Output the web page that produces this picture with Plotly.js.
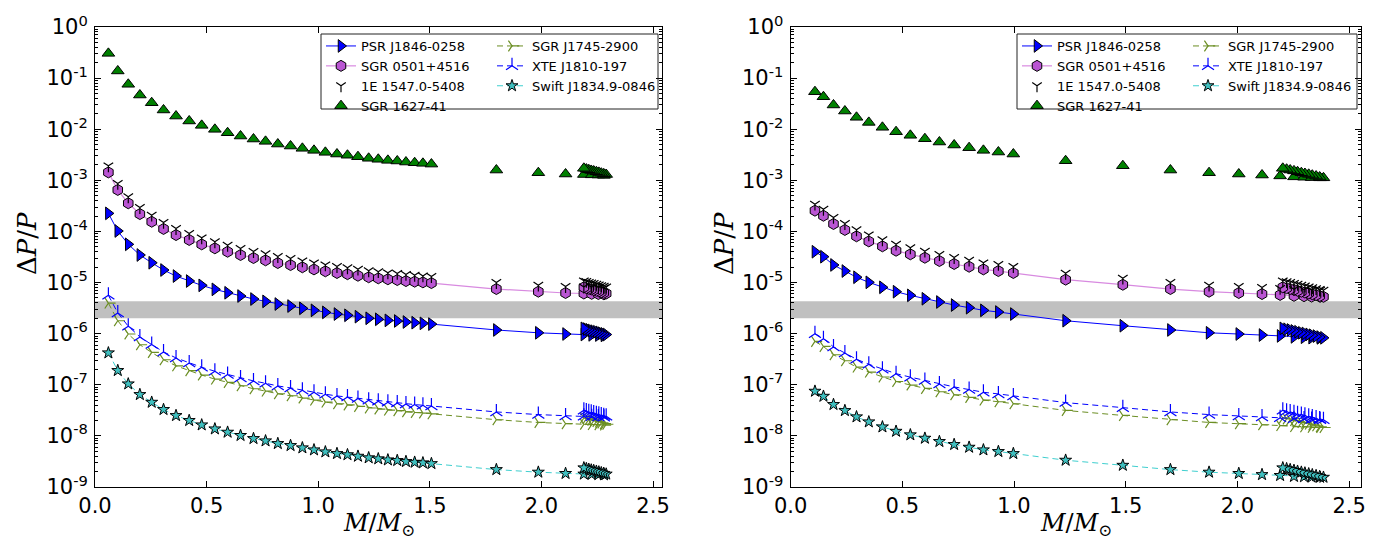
<!DOCTYPE html>
<html><head><meta charset="utf-8">
<script src="https://cdn.plot.ly/plotly-3.0.1.min.js"></script>
<style>html,body{margin:0;padding:0;background:#fff}#chart{width:1381px;height:544px}</style>
</head><body><div id="chart"></div>
<script>
// ---------- DATA ----------
const massLeft = [0.060,0.102,0.149,0.201,0.254,0.307,0.363,0.422,0.478,0.537,0.594,0.652,0.710,0.764,0.819,0.876,0.929,0.981,1.032,1.084,1.131,1.178,1.226,1.269,1.312,1.354,1.393,1.432,1.469,1.507,1.798,1.986,2.108,2.190,2.225,2.255,2.280,2.290,2.279,2.268,2.257,2.246,2.234,2.223,2.212,2.201,2.190];
const massRight = [0.109,0.147,0.192,0.243,0.295,0.350,0.411,0.472,0.536,0.601,0.666,0.732,0.799,0.863,0.930,0.997,1.231,1.487,1.700,1.873,2.006,2.110,2.191,2.253,2.298,2.332,2.370,2.385,2.368,2.352,2.335,2.319,2.302,2.286,2.269,2.253,2.236,2.220,2.203];

const psrLeft = [2.26e-4,1.02e-4,5.60e-5,3.46e-5,2.44e-5,1.76e-5,1.34e-5,1.07e-5,8.81e-6,7.36e-6,6.31e-6,5.45e-6,4.76e-6,4.28e-6,3.80e-6,3.47e-6,3.13e-6,2.86e-6,2.61e-6,2.42e-6,2.29e-6,2.15e-6,2.00e-6,1.91e-6,1.82e-6,1.77e-6,1.69e-6,1.64e-6,1.59e-6,1.54e-6,1.18e-6,1.04e-6,9.84e-7,9.62e-7,9.47e-7,9.40e-7,9.25e-7,9.62e-7,9.92e-7,1.02e-6,1.06e-6,1.09e-6,1.12e-6,1.15e-6,1.19e-6,1.23e-6,1.27e-6];
const sgr0501Left = [1.43e-3,6.49e-4,3.56e-4,2.19e-4,1.55e-4,1.12e-4,8.51e-5,6.82e-5,5.59e-5,4.68e-5,4.01e-5,3.46e-5,3.02e-5,2.72e-5,2.41e-5,2.20e-5,1.99e-5,1.81e-5,1.66e-5,1.54e-5,1.46e-5,1.36e-5,1.27e-5,1.21e-5,1.16e-5,1.12e-5,1.07e-5,1.04e-5,1.01e-5,9.78e-6,7.47e-6,6.63e-6,6.25e-6,6.11e-6,6.02e-6,5.97e-6,5.88e-6,6.11e-6,6.30e-6,6.49e-6,6.72e-6,6.91e-6,7.14e-6,7.33e-6,7.57e-6,7.80e-6,8.08e-6];
const e1547Left = [1.92e-3,8.69e-4,4.77e-4,2.94e-4,2.08e-4,1.50e-4,1.14e-4,9.14e-5,7.50e-5,6.27e-5,5.37e-5,4.64e-5,4.05e-5,3.65e-5,3.23e-5,2.95e-5,2.66e-5,2.43e-5,2.22e-5,2.06e-5,1.95e-5,1.83e-5,1.70e-5,1.63e-5,1.55e-5,1.51e-5,1.44e-5,1.39e-5,1.35e-5,1.31e-5,1.00e-5,8.88e-6,8.38e-6,8.19e-6,8.06e-6,8.00e-6,7.88e-6,8.19e-6,8.44e-6,8.69e-6,9.01e-6,9.26e-6,9.58e-6,9.83e-6,1.01e-5,1.05e-5,1.08e-5];
const sgr1627Left = [0.305,0.138,0.0757,0.0467,0.0330,0.0238,0.0181,0.0145,0.0119,0.00995,0.00853,0.00736,0.00643,0.00579,0.00513,0.00469,0.00423,0.00386,0.00353,0.00327,0.00310,0.00290,0.00270,0.00258,0.00246,0.00239,0.00228,0.00221,0.00215,0.00208,0.00159,0.00141,0.00133,0.00130,0.00128,0.00127,0.00125,0.00130,0.00134,0.00138,0.00143,0.00147,0.00152,0.00156,0.00161,0.00166,0.00172];
const sgr1745Left = [3.97e-6,1.79e-6,9.84e-7,6.07e-7,4.29e-7,3.09e-7,2.35e-7,1.89e-7,1.55e-7,1.29e-7,1.11e-7,9.57e-8,8.36e-8,7.53e-8,6.67e-8,6.10e-8,5.50e-8,5.02e-8,4.59e-8,4.25e-8,4.03e-8,3.77e-8,3.51e-8,3.35e-8,3.20e-8,3.11e-8,2.96e-8,2.87e-8,2.80e-8,2.70e-8,2.07e-8,1.83e-8,1.73e-8,1.69e-8,1.66e-8,1.65e-8,1.63e-8,1.69e-8,1.74e-8,1.79e-8,1.86e-8,1.91e-8,1.98e-8,2.03e-8,2.09e-8,2.16e-8,2.24e-8];
const xteLeft = [5.64e-6,2.55e-6,1.40e-6,8.64e-7,6.11e-7,4.40e-7,3.35e-7,2.68e-7,2.20e-7,1.84e-7,1.58e-7,1.36e-7,1.19e-7,1.07e-7,9.49e-8,8.68e-8,7.83e-8,7.14e-8,6.53e-8,6.05e-8,5.74e-8,5.37e-8,5.00e-8,4.77e-8,4.55e-8,4.42e-8,4.22e-8,4.09e-8,3.98e-8,3.85e-8,2.94e-8,2.61e-8,2.46e-8,2.41e-8,2.37e-8,2.35e-8,2.31e-8,2.41e-8,2.48e-8,2.55e-8,2.65e-8,2.72e-8,2.81e-8,2.89e-8,2.98e-8,3.07e-8,3.18e-8];
const swiftLeft = [4.21e-7,1.90e-7,1.04e-7,6.44e-8,4.55e-8,3.28e-8,2.50e-8,2.00e-8,1.64e-8,1.37e-8,1.18e-8,1.02e-8,8.87e-9,7.99e-9,7.08e-9,6.47e-9,5.84e-9,5.33e-9,4.87e-9,4.51e-9,4.28e-9,4.00e-9,3.73e-9,3.56e-9,3.39e-9,3.30e-9,3.15e-9,3.05e-9,2.97e-9,2.87e-9,2.19e-9,1.95e-9,1.84e-9,1.79e-9,1.77e-9,1.75e-9,1.73e-9,1.79e-9,1.85e-9,1.90e-9,1.97e-9,2.03e-9,2.10e-9,2.15e-9,2.22e-9,2.29e-9,2.37e-9];

const psrRight = [4.01e-5,3.20e-5,2.21e-5,1.68e-5,1.27e-5,1.01e-5,8.07e-6,6.62e-6,5.62e-6,4.82e-6,4.16e-6,3.63e-6,3.22e-6,2.86e-6,2.65e-6,2.42e-6,1.79e-6,1.43e-6,1.18e-6,1.04e-6,9.84e-7,9.40e-7,9.03e-7,8.66e-7,8.51e-7,8.36e-7,8.29e-7,8.29e-7,8.58e-7,8.95e-7,9.32e-7,9.69e-7,1.01e-6,1.04e-6,1.09e-6,1.13e-6,1.18e-6,1.22e-6,1.27e-6];
const sgr0501Right = [2.55e-4,2.03e-4,1.40e-4,1.07e-4,8.04e-5,6.39e-5,5.12e-5,4.20e-5,3.57e-5,3.06e-5,2.64e-5,2.31e-5,2.04e-5,1.81e-5,1.68e-5,1.54e-5,1.14e-5,9.07e-6,7.47e-6,6.63e-6,6.25e-6,5.97e-6,5.73e-6,5.50e-6,5.41e-6,5.31e-6,5.26e-6,5.26e-6,5.45e-6,5.69e-6,5.92e-6,6.16e-6,6.39e-6,6.63e-6,6.91e-6,7.19e-6,7.47e-6,7.76e-6,8.08e-6];
const e1547Right = [3.41e-4,2.72e-4,1.88e-4,1.43e-4,1.08e-4,8.57e-5,6.87e-5,5.63e-5,4.79e-5,4.11e-5,3.54e-5,3.09e-5,2.74e-5,2.43e-5,2.26e-5,2.06e-5,1.52e-5,1.22e-5,1.00e-5,8.88e-6,8.38e-6,8.00e-6,7.69e-6,7.37e-6,7.25e-6,7.12e-6,7.06e-6,7.06e-6,7.31e-6,7.62e-6,7.94e-6,8.25e-6,8.57e-6,8.88e-6,9.26e-6,9.64e-6,1.00e-5,1.04e-5,1.08e-5];
const sgr1627Right = [0.0542,0.0432,0.0298,0.0227,0.0171,0.0136,0.0109,0.00894,0.00760,0.00652,0.00562,0.00491,0.00435,0.00386,0.00358,0.00327,0.00242,0.00193,0.00159,0.00141,0.00133,0.00127,0.00122,0.00117,0.00115,0.00113,0.00112,0.00112,0.00116,0.00121,0.00126,0.00131,0.00136,0.00141,0.00147,0.00153,0.00159,0.00165,0.00172];
const sgr1745Right = [7.05e-7,5.62e-7,3.87e-7,2.95e-7,2.22e-7,1.77e-7,1.42e-7,1.16e-7,9.88e-8,8.48e-8,7.31e-8,6.38e-8,5.66e-8,5.02e-8,4.65e-8,4.25e-8,3.15e-8,2.51e-8,2.07e-8,1.83e-8,1.73e-8,1.65e-8,1.59e-8,1.52e-8,1.50e-8,1.47e-8,1.46e-8,1.46e-8,1.51e-8,1.57e-8,1.64e-8,1.70e-8,1.77e-8,1.83e-8,1.91e-8,1.99e-8,2.07e-8,2.15e-8,2.24e-8];
const xteRight = [1.00e-6,7.99e-7,5.51e-7,4.20e-7,3.16e-7,2.52e-7,2.02e-7,1.65e-7,1.41e-7,1.21e-7,1.04e-7,9.08e-8,8.05e-8,7.14e-8,6.62e-8,6.05e-8,4.48e-8,3.57e-8,2.94e-8,2.61e-8,2.46e-8,2.35e-8,2.26e-8,2.16e-8,2.13e-8,2.09e-8,2.07e-8,2.07e-8,2.15e-8,2.24e-8,2.33e-8,2.42e-8,2.52e-8,2.61e-8,2.72e-8,2.83e-8,2.94e-8,3.05e-8,3.18e-8];
const swiftRight = [7.48e-8,5.96e-8,4.11e-8,3.13e-8,2.36e-8,1.88e-8,1.50e-8,1.23e-8,1.05e-8,9.00e-9,7.76e-9,6.78e-9,6.00e-9,5.33e-9,4.94e-9,4.51e-9,3.34e-9,2.66e-9,2.19e-9,1.95e-9,1.84e-9,1.75e-9,1.68e-9,1.61e-9,1.59e-9,1.56e-9,1.55e-9,1.55e-9,1.60e-9,1.67e-9,1.74e-9,1.81e-9,1.88e-9,1.95e-9,2.03e-9,2.11e-9,2.19e-9,2.28e-9,2.37e-9];

const seriesNames = ['PSR J1846-0258','SGR 0501+4516','1E 1547.0-5408','SGR 1627-41','SGR J1745-2900','XTE J1810-197','Swift J1834.9-0846'];
const bandRange = [2e-6, 4.3e-6];

const xTickVals = [0, 0.5, 1.0, 1.5, 2.0, 2.5];
const xTickText = ['0.0','0.5','1.0','1.5','2.0','2.5'];
const yTickVals = [1e-9,1e-8,1e-7,1e-6,1e-5,1e-4,1e-3,1e-2,1e-1,1];
const yTickText = ['10<sup>-9</sup>','10<sup>-8</sup>','10<sup>-7</sup>','10<sup>-6</sup>','10<sup>-5</sup>','10<sup>-4</sup>','10<sup>-3</sup>','10<sup>-2</sup>','10<sup>-1</sup>','10<sup>0</sup>'];

// ---------- STYLES ----------
const styles = [
  {symbol:'triangle-right', fill:'#0000ff', edge:'#000', size:11, line:{color:'#0000ff', width:1, dash:'solid'}, legendCol:0},
  {symbol:'hexagon', fill:'#ba55d3', edge:'#000', size:11, line:{color:'#d88ae0', width:1.2, dash:'solid'}, legendCol:0},
  {symbol:'y-down', fill:'#000', edge:'#000', size:8, line:null, legendCol:0},
  {symbol:'triangle-up', fill:'#008000', edge:'#000', size:11, line:null, legendCol:0},
  {symbol:'y-right', fill:'#6b8e23', edge:'#6b8e23', size:9, line:{color:'#6b8e23', width:1, dash:'6px,4px'}, legendCol:1},
  {symbol:'y-up', fill:'#0000ff', edge:'#0000ff', size:10, line:{color:'#0000ff', width:1, dash:'6px,4px'}, legendCol:1},
  {symbol:'star', fill:'#3fbfbf', edge:'#000', size:9, line:{color:'#3fcfcf', width:1, dash:'6px,4px'}, legendCol:1}
];

const xRangeLeft = [0, 2.54];
const xRangeRight = [0, 2.553];

const panels = [
  {x: massLeft, ys: [psrLeft, sgr0501Left, e1547Left, sgr1627Left, sgr1745Left, xteLeft, swiftLeft], xa:'x', ya:'y', legends:['legend','legend2'], range:xRangeLeft},
  {x: massRight, ys: [psrRight, sgr0501Right, e1547Right, sgr1627Right, sgr1745Right, xteRight, swiftRight], xa:'x2', ya:'y2', legends:['legend3','legend4'], range:xRangeRight}
];

const traces = [];
panels.forEach(p => {
  traces.push({
    x:[p.range[0], p.range[1], p.range[1], p.range[0]],
    y:[bandRange[0], bandRange[0], bandRange[1], bandRange[1]],
    xaxis:p.xa, yaxis:p.ya, mode:'lines', fill:'toself', fillcolor:'#c0c0c0',
    line:{width:0, color:'#c0c0c0'}, showlegend:false, hoverinfo:'skip'
  });
  styles.forEach((s, i) => {
    const isLineSym = s.symbol.startsWith('y-');
    traces.push({
      x:p.x, y:p.ys[i], name:seriesNames[i], xaxis:p.xa, yaxis:p.ya,
      legend:p.legends[s.legendCol],
      mode: s.line ? 'lines+markers' : 'markers',
      line: s.line ? s.line : undefined,
      marker:{symbol:s.symbol, size:s.size, color:s.fill,
        line:{color: s.edge, width: isLineSym ? 1.2 : 1}}
    });
  });
});

const W = 1381, H = 544;
const yDomain = [1 - 487/H, 1 - 27/H];
const minorVals = [];
for (let e = -9; e < 0; e++) for (let m = 2; m <= 9; m++) minorVals.push(m * Math.pow(10, e));

const axisBase = {
  showline:true, linecolor:'#000', linewidth:1, mirror:'allticks',
  ticks:'inside', ticklen:6, tickwidth:1, tickcolor:'#000',
  showgrid:false, zeroline:false,
  tickfont:{family:'DejaVu Sans', size:21, color:'#000'}
};
function xAxis(domain, range, anchor) {
  return Object.assign({}, axisBase, {domain, range, anchor, tickmode:'array', tickvals:xTickVals, ticktext:xTickText, ticklabelstandoff:0});
}
function yAxis(anchor) {
  return Object.assign({}, axisBase, {domain:yDomain, type:'log', range:[-9,0], anchor,
    tickmode:'array', tickvals:yTickVals, ticktext:yTickText, ticklabelstandoff:2,
    minor:{tickmode:'array', tickvals:minorVals, ticks:'inside', ticklen:3, tickwidth:1, tickcolor:'#000'}});
}

const legendBase = {xanchor:'left', yanchor:'top', bgcolor:'rgba(0,0,0,0)', borderwidth:0,
  font:{family:'DejaVu Sans', size:13, color:'#000'}, tracegroupgap:0};

const legBoxL = [321, 658, 34, 109];
const legBoxR = [1017, 1357, 34, 109];

const titleFont = {family:'DejaVu Serif', size:26, color:'#000'};
const layout = {
  width:W, height:H, margin:{l:0, r:0, t:0, b:0},
  paper_bgcolor:'#fff', plot_bgcolor:'#fff', showlegend:true,
  xaxis: xAxis([95/W, 662/W], xRangeLeft, 'y'),
  yaxis: yAxis('x'),
  xaxis2: xAxis([790.6/W, 1361/W], xRangeRight, 'y2'),
  yaxis2: yAxis('x2'),
  legend: Object.assign({}, legendBase, {x:legBoxL[0]/W, y:1-31/H}),
  legend2: Object.assign({}, legendBase, {x:(legBoxL[0]+171)/W, y:1-31/H}),
  legend3: Object.assign({}, legendBase, {x:legBoxR[0]/W, y:1-31/H}),
  legend4: Object.assign({}, legendBase, {x:(legBoxR[0]+171)/W, y:1-31/H}),
  shapes: [legBoxL, legBoxR].map(b => ({type:'rect', xref:'paper', yref:'paper',
    x0:b[0]/W, x1:b[1]/W, y0:1-b[3]/H, y1:1-b[2]/H, line:{color:'#222', width:1}, fillcolor:'rgba(0,0,0,0)', layer:'above'})),
  annotations: [
    {xref:'paper', yref:'paper', x:27/W, y:1-244/H, xanchor:'center', yanchor:'middle', text:'Δ<i>P</i>/<i>P</i>', textangle:-90, showarrow:false, font:titleFont},
    {xref:'paper', yref:'paper', x:724/W, y:1-244/H, xanchor:'center', yanchor:'middle', text:'Δ<i>P</i>/<i>P</i>', textangle:-90, showarrow:false, font:titleFont},
    {xref:'paper', yref:'paper', x:378.5/W, y:1-524/H, xanchor:'center', yanchor:'middle', text:'<i>M</i>/<i>M</i><sub>⊙</sub>', showarrow:false, font:{family:'DejaVu Serif', size:24, color:'#000'}},
    {xref:'paper', yref:'paper', x:1075.8/W, y:1-524/H, xanchor:'center', yanchor:'middle', text:'<i>M</i>/<i>M</i><sub>⊙</sub>', showarrow:false, font:{family:'DejaVu Serif', size:24, color:'#000'}}
  ]
};

Plotly.newPlot('chart', traces, layout, {staticPlot:true, displayModeBar:false});
</script></body></html>
